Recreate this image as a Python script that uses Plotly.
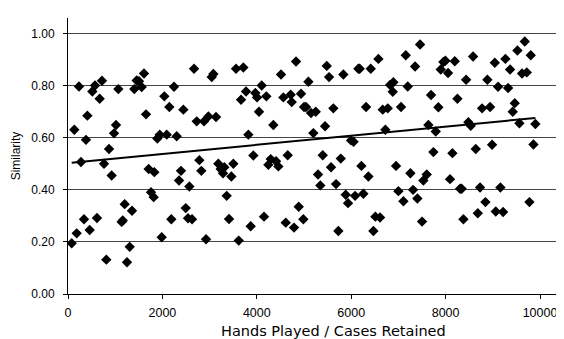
import numpy as np
import plotly.graph_objects as go

hands = [134, 233, 410, 381, 275, 516, 572, 671, 720, 763, 869, 975, 1017, 1067, 1405, 1455,
         1504, 1561, 1610, 1653, 1893, 1943, 2091, 2041, 2147, 2246, 2303, 2444,
         78, 184, 339, 459, 614, 812, 925, 1137, 1160, 1201, 1356, 1307, 1250, 1709, 1829,
         1759, 1815, 1985, 2189, 2352, 2394,
         2670, 2727, 2882, 2974, 3136, 3045, 3080, 3560, 3715, 3666, 3772, 3969, 4005, 4104,
         4202, 4047, 3821, 4351, 4513, 4831, 4562, 4718, 4740, 4937, 5001,
         2783, 3185, 3503, 3927, 4295, 4408, 4655,
         2825, 2571, 2494, 2543, 2628, 2924, 3235, 3312, 3284, 3461, 3362, 3412, 3617, 3871,
         4153, 4245, 4457, 4613, 4789, 4888, 4986,
         5093, 5043, 5149, 5249, 5482, 5531, 5622, 5446, 5198, 5834, 6152, 6180, 6414, 6576,
         6315, 6668, 6775, 6724, 6823, 6893, 6880, 7056, 7198, 7156, 7353, 7459, 5997, 6050,
         5397, 5779,
         5297, 5346, 5573, 5679, 5728, 5884, 5933, 6082, 6258, 6216, 6364, 6512, 6611, 6470,
         6950, 7254, 7000, 7106, 7311, 7402, 7529, 7501,
         7897, 7953, 7995, 8052, 8194, 8434, 8582, 8885, 9042, 9112, 9267, 9324, 9366, 9521,
         9620, 9720, 9677, 9804, 7692, 7847, 8250, 8773, 8942, 9465, 9423, 9563, 9902, 7635,
         7791, 8482, 8533, 7741, 8144, 8639, 8985, 9861,
         7600, 8094, 8306, 8340, 8377, 8682, 8730, 8843, 9063, 9218, 9161, 9776]

similarity = [0.631, 0.797, 0.685, 0.592, 0.507, 0.778, 0.801, 0.750, 0.819, 0.500, 0.557, 0.617,
              0.649, 0.787, 0.787, 0.820, 0.817, 0.795, 0.847, 0.690, 0.597, 0.612, 0.612, 0.759,
              0.718, 0.796, 0.606, 0.708,
              0.195, 0.233, 0.287, 0.246, 0.292, 0.132, 0.455, 0.277, 0.282, 0.345, 0.320, 0.181,
              0.122, 0.480, 0.468, 0.391, 0.372, 0.218, 0.287, 0.436, 0.473,
              0.865, 0.663, 0.663, 0.682, 0.680, 0.833, 0.845, 0.865, 0.870, 0.746, 0.778, 0.772,
              0.755, 0.801, 0.759, 0.700, 0.612, 0.649, 0.843, 0.893, 0.755, 0.765, 0.737, 0.769,
              0.718,
              0.514, 0.500, 0.500, 0.532, 0.518, 0.510, 0.533,
              0.473, 0.413, 0.330, 0.291, 0.287, 0.210, 0.480, 0.487, 0.464, 0.451, 0.377, 0.288,
              0.205, 0.260, 0.297, 0.496, 0.490, 0.274, 0.255, 0.335, 0.287,
              0.815, 0.718, 0.695, 0.700, 0.876, 0.833, 0.713, 0.644, 0.618, 0.843, 0.865, 0.865,
              0.865, 0.903, 0.718, 0.708, 0.713, 0.631, 0.803, 0.813, 0.777, 0.718, 0.797, 0.917,
              0.874, 0.958, 0.590, 0.585,
              0.533, 0.520,
              0.459, 0.417, 0.487, 0.422, 0.242, 0.381, 0.349, 0.377, 0.385, 0.492, 0.451, 0.297,
              0.294, 0.242, 0.492, 0.464, 0.395, 0.356, 0.400, 0.367, 0.436, 0.278,
              0.862, 0.891, 0.896, 0.849, 0.894, 0.823, 0.912, 0.823, 0.888, 0.796, 0.903, 0.791,
              0.862, 0.935, 0.847, 0.851, 0.970, 0.917, 0.764, 0.717, 0.750, 0.713, 0.718, 0.733,
              0.700, 0.656, 0.653, 0.649, 0.624, 0.660, 0.646, 0.545, 0.541, 0.557, 0.573, 0.574,
              0.459, 0.441, 0.404, 0.404, 0.287, 0.310, 0.409, 0.353, 0.317, 0.315, 0.409, 0.353]

x_ticks = [0, 2000, 4000, 6000, 8000, 10000]
y_ticks = [0.0, 0.2, 0.4, 0.6, 0.8, 1.0]
x_title = "Hands Played / Cases Retained"
y_title = "Similarity"

# linear trendline (least squares) over the data range
xa = np.array(hands, dtype=float)
ya = np.array(similarity, dtype=float)
slope, intercept = np.polyfit(xa, ya, 1)
tx = np.array([xa.min(), xa.max()])
ty = slope * tx + intercept

FONT = "Liberation Sans, Arial, sans-serif"
WIDE = "DejaVu Sans, Verdana, sans-serif"

fig = go.Figure()
fig.add_trace(go.Scatter(
    x=hands, y=similarity, mode="markers",
    marker=dict(symbol="diamond", size=8, color="black", line=dict(width=0)),
    showlegend=False, hoverinfo="x+y"))
fig.add_trace(go.Scatter(
    x=tx, y=ty, mode="lines", line=dict(color="black", width=2),
    showlegend=False, hoverinfo="skip"))

# x-axis title sits right of the plot centre in the reference
fig.add_annotation(
    text=x_title, xref="paper", yref="paper", x=0.542, y=-0.134,
    xanchor="center", yanchor="middle", showarrow=False,
    font=dict(family=WIDE, size=14.5, color="black"))

# page body has an 8px default margin, so the figure is sized to the visible area
fig.update_layout(
    width=556, height=331,
    margin=dict(l=60, r=7, t=10, b=45),
    paper_bgcolor="white", plot_bgcolor="white",
    font=dict(family=FONT, size=12, color="black"),
    xaxis=dict(
        range=[0, 10360], tickvals=x_ticks, ticktext=[str(v) for v in x_ticks],
        showgrid=False, zeroline=False, automargin=False,
        showline=True, linecolor="black", linewidth=1,
        ticks="outside", ticklen=4, tickcolor="black",
        ticklabeloverflow="allow", ticklabelstandoff=3,
        tickfont=dict(family=FONT, size=12.5, color="black"),
    ),
    yaxis=dict(
        range=[0, 1.06], tickvals=y_ticks, ticktext=[f"{v:.2f}" for v in y_ticks],
        showgrid=True, gridcolor="#444444", gridwidth=1, zeroline=False, automargin=False,
        showline=True, linecolor="black", linewidth=1,
        ticks="outside", ticklen=4, tickcolor="black",
        ticklabelstandoff=6,
        tickfont=dict(family=FONT, size=12, color="black"),
        title=dict(text=y_title, standoff=8,
                   font=dict(family=FONT, size=12, color="black")),
    ),
)

fig.write_html("out.html")
